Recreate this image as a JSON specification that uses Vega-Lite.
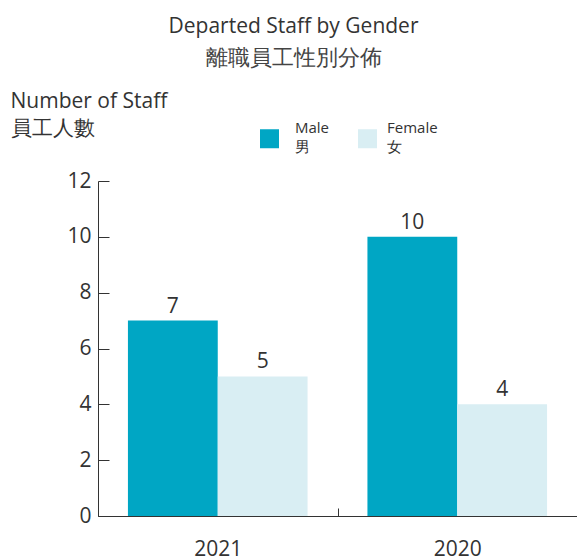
{
  "$schema": "https://vega.github.io/schema/vega-lite/v6.json",
  "autosize": "none",
  "width": 479,
  "height": 335,
  "padding": {"left": 98, "top": 181, "right": 0, "bottom": 43},
  "background": "white",
  "title": {
    "text": "Departed Staff by Gender",
    "subtitle": "離職員工性別分佈",
    "anchor": "middle",
    "frame": "group",
    "dx": -44,
    "dy": -17,
    "font": "Open Sans",
    "fontSize": 21,
    "fontWeight": "normal",
    "color": "#333333",
    "subtitleFont": "Open Sans",
    "subtitleFontSize": 22,
    "subtitleColor": "#444444",
    "subtitlePadding": 11
  },
  "data": {
    "values": [
      {"year": "2021", "gender": "Male", "count": 7},
      {"year": "2021", "gender": "Female", "count": 5},
      {"year": "2020", "gender": "Male", "count": 10},
      {"year": "2020", "gender": "Female", "count": 4}
    ]
  },
  "encoding": {
    "x": {
      "field": "year",
      "type": "nominal",
      "sort": ["2021", "2020"],
      "scale": {"paddingInner": 0, "paddingOuter": 0},
      "axis": {
        "title": null,
        "labelAngle": 0,
        "labelFont": "Open Sans",
        "labelFontSize": 21,
        "labelColor": "#333333",
        "labelPadding": 30,
        "domainColor": "#333333",
        "tickColor": "#333333",
        "tickBand": "extent",
        "tickSize": -8
      }
    },
    "xOffset": {"field": "gender", "type": "nominal", "sort": ["Male", "Female"], "scale": {"paddingInner": 0, "paddingOuter": 0.3333}},
    "y": {
      "field": "count",
      "type": "quantitative",
      "scale": {"domain": [0, 12]},
      "axis": {
        "values": [0, 2, 4, 6, 8, 10, 12],
        "grid": false,
        "title": ["Number of Staff", "員工人數"],
        "titleAngle": 0,
        "titleAlign": "left",
        "titleBaseline": "alphabetic",
        "titleX": -88,
        "titleY": -74,
        "titleFont": "Open Sans",
        "titleFontSize": 21,
        "titleFontWeight": "normal",
        "titleColor": "#333333",
        "titleLineHeight": 27,
        "labelFont": "Open Sans",
        "labelFontSize": 21,
        "labelColor": "#333333",
        "labelPadding": 18,
        "domainColor": "#333333",
        "tickColor": "#333333",
        "tickSize": -11
      }
    }
  },
  "layer": [
    {
      "mark": {"type": "bar"},
      "encoding": {
        "color": {
          "field": "gender",
          "type": "nominal",
          "sort": ["Male", "Female"],
          "scale": {"domain": ["Male", "Female"], "range": ["#00A6C4", "#D9EEF3"]},
          "legend": {
            "title": null,
            "orient": "none",
            "direction": "horizontal",
            "legendX": 162,
            "legendY": -52,
            "symbolType": "square",
            "symbolSize": 361,
            "symbolStrokeWidth": 0,
            "labelOffset": 16,
            "columnPadding": 28,
            "labelFont": "Open Sans",
            "labelFontSize": 15,
            "labelColor": "#333333",
            "labelExpr": "datum.label == 'Male' ? ['Male', '男'] : ['Female', '女']",
            "encode": {"labels": {"update": {"lineHeight": {"value": 19}, "dy": {"value": -11}, "dx": {"signal": "datum.value === 'Female' ? -6 : 0"}}}}
          }
        }
      }
    },
    {
      "mark": {"type": "text", "baseline": "bottom", "dy": -4, "font": "Open Sans", "fontSize": 21, "color": "#333333"},
      "encoding": {"text": {"field": "count", "type": "quantitative"}}
    }
  ],
  "config": {"view": {"stroke": null}}
}
